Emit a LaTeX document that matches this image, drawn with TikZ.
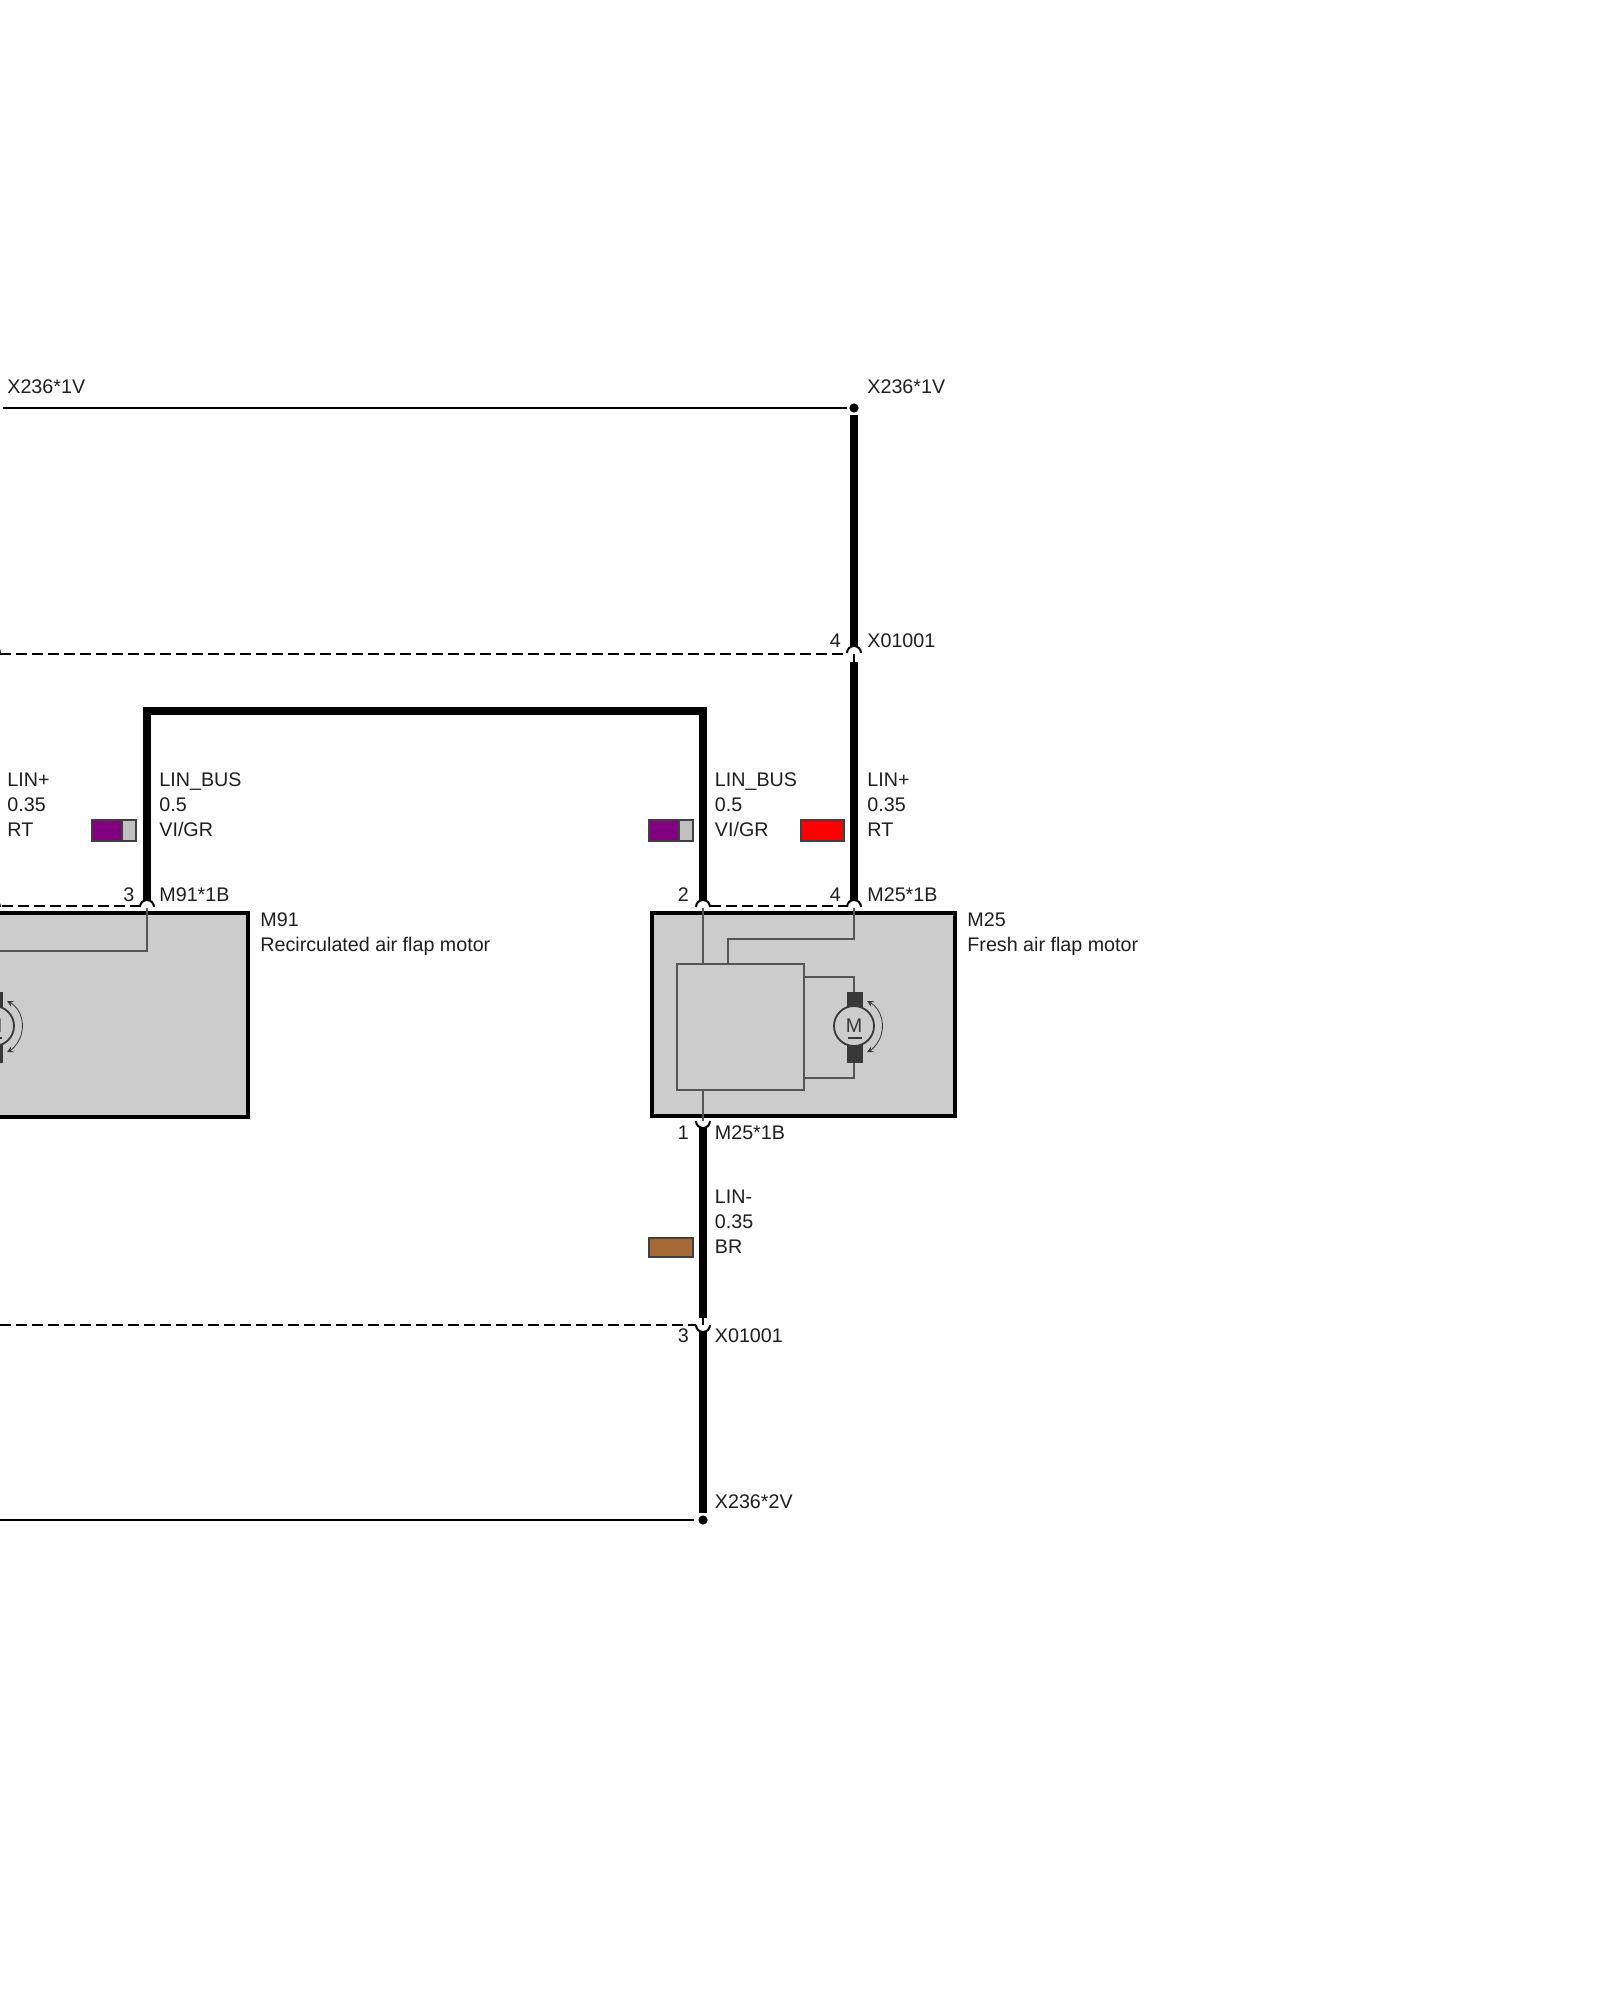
\documentclass[tikz,border=0pt]{standalone}
\usepackage{fontspec}
\usetikzlibrary{calc}
\setmainfont{Liberation Sans}
\definecolor{flapgray}{HTML}{CCCCCC}
\definecolor{innerline}{HTML}{555555}
\definecolor{brushgray}{HTML}{383838}
\definecolor{wirevi}{HTML}{800080}
\definecolor{wiregr}{HTML}{C0C0C0}
\definecolor{wirert}{HTML}{FF0000}
\definecolor{wirebr}{HTML}{A56A38}
\tikzset{
	lbl/.style={anchor=base west,inner sep=0pt,text=black!88,font=\fontsize{9.85}{12}\selectfont},
	thickwire/.style={line width=3.6pt},
	thinwire/.style={line width=0.8pt},
	dashwire/.style={line width=0.8pt,dash pattern=on 5.5pt off 2.5pt},
	inner/.style={line width=0.7pt,draw=innerline},
	pinarc/.style={line width=1pt},
	wiredot/.style={circle,fill=black,inner sep=0pt,minimum size=4.6pt},
	flapbox/.style={line width=1.8pt,fill=flapgray},
	swatch/.style={line width=0.7pt,draw=black!75}
}
\begin{document}
\begin{tikzpicture}[x=0.5pt,y=-0.5pt,line cap=butt,line join=miter]
	\useasboundingbox (0,0) rectangle (1600,2000);
	\clip (0,0) rectangle (1600,2000);
	
	% wire ends and pins
	\node[wiredot] (dotA) at (854,408) {};
	\node[wiredot] (dotB) at (703,1520) {};
	\coordinate (xTopL) at (-7,654);
	\coordinate (xTop) at (854,654);
	\coordinate (xBot) at (703,1325);
	\coordinate (xBotL) at (0,1325);
	\coordinate (m91) at (147,908);
	\coordinate (m91L) at (-7,908);
	\coordinate (m25a) at (703,908);
	\coordinate (m25b) at (854,908);
	\coordinate (m25c) at (703,1121);
	\coordinate (wireEnd) at (0,1520);
	\coordinate (busA) at (147,711);
	\coordinate (busB) at (703,711);
	
	% boxes
	\draw[flapbox] (-60,913) rectangle (248,1117);
	\draw[flapbox] (652,913) rectangle (955,1116);
	
	% inside M25
	\draw[inner] (677,964) rectangle (804,1090);
	\draw[inner] (m25a) -- (703,964);
	\draw[inner] (728,964) |- (854,939) -- (m25b);
	\draw[inner] (703,1090) -- (m25c);
	\draw[inner] (804,977) -| (854,992);
	\draw[inner] (804,1078) -| (854,1063);
	% inside M91
	\draw[inner] (m91) |- (0,951);
	
	% motors
	\foreach \mx/\mn in {854/mrA,-6/mrB}{
		\fill[brushgray] (\mx-7.5,992) rectangle (\mx+8.5,1063);
		\node[circle,draw=brushgray,fill=flapgray,line width=0.9pt,minimum size=20pt,inner sep=0pt] (\mn) at (\mx,1026) {};
		\node[lbl,anchor=base,text=brushgray] (\mn t) at (\mx,1032) {M};
		\draw[line width=0.7pt,draw=brushgray] (\mx-6.5,1038) -- (\mx+7.5,1038);
		\draw[line width=0.4pt,draw=brushgray,<->,>=stealth] (\mx+13,1001) arc (-62:62:29);
	}
	
	% thick wires
	\draw[thickwire] (dotA.south) ++(0,2.5) -- (854,647);
	\draw[thickwire] (854,662) -- (854,901);
	\draw[thickwire] (m91) ++(0,-7) -- (busA) -- (busB) -- ($(m25a)+(0,-7)$);
	\draw[thickwire] (703,1128) -- (703,1318);
	\draw[thickwire] (703,1332) -- (703,1513);
	
	% thin and dashed wires
	\draw[thinwire,shorten >=1pt] (3,408) -- (dotA.west);
	\draw[thinwire,shorten >=1.8pt] (wireEnd) -- (dotB.west);
	\draw[dashwire] (0,654) -- (847,654);
	\draw[dashwire] (2,906) -- (140,906);
	\draw[dashwire] (710,906) -- (847,906);
	\draw[dashwire] (xBotL) -- (696,1325);
	
	% pin arcs
	\foreach \p in {xTopL,xTop,m91,m91L,m25a,m25b}
		\draw[pinarc] (\p) ++(-7,-1) arc (180:360:7);
	\foreach \p in {m25c,xBot}
		\draw[pinarc] (\p) ++(-7,0) arc (180:90:7) arc (90:0:7);
	\draw[thinwire] (xTop) -- (854,662);
	\draw[thinwire] (xBot) -- (703,1318);
	
	% colour tags
	\draw[swatch,fill=wiregr] (92,820) rectangle (136,841);
	\draw[swatch,fill=wirevi] (92,820) rectangle (122,841);
	\draw[swatch,fill=wiregr] (649,820) rectangle (693,841);
	\draw[swatch,fill=wirevi] (649,820) rectangle (679,841);
	\draw[swatch,fill=wirert] (801,820) rectangle (844,841);
	\draw[swatch,fill=wirebr] (649,1238) rectangle (693,1257);
	
	% wire labels
	\foreach \x/\y/\a/\b/\c in {7/786/LIN+/0.35/RT,159/786/LIN\_BUS/0.5/VI\slash GR,714.5/786/LIN\_BUS/0.5/VI\slash GR,867/786/LIN+/0.35/RT,714.5/1203/LIN-/0.35/BR}{
		\node[lbl] (la\x\y) at (\x,\y) {\a};
		\node[lbl] (lb\x\y) at (\x,\y+25) {\b};
		\node[lbl] (lc\x\y) at (\x,\y+50) {\c};
	}
	
	% connector and part labels
	\node[lbl] (tx236l) at (7,394) {X236*1V};
	\node[lbl] (tx236r) at (867,394) {X236*1V};
	\node[lbl] (tx236b) at (714.5,1508) {X236*2V};
	\node[lbl] (txTop) at (867,647) {X01001};
	\node[lbl] (txBot) at (714.5,1342) {X01001};
	\node[lbl] (nxTop) at (829.5,647) {4};
	\node[lbl] (nxBot) at (677.5,1342) {3};
	\node[lbl] (n91) at (123,901) {3};
	\node[lbl] (t91) at (159,901) {M91*1B};
	\node[lbl] (n25a) at (677.5,901) {2};
	\node[lbl] (n25b) at (829.5,901) {4};
	\node[lbl] (t25a) at (867,901) {M25*1B};
	\node[lbl] (n25c) at (677.5,1139) {1};
	\node[lbl] (t25c) at (714.5,1139) {M25*1B};
	\node[lbl] (p91a) at (260,926) {M91};
	\node[lbl] (p91b) at (260,951) {Recirculated air flap motor};
	\node[lbl] (p25a) at (967,926) {M25};
	\node[lbl] (p25b) at (967,951) {Fresh air flap motor};
\end{tikzpicture}
\end{document}
